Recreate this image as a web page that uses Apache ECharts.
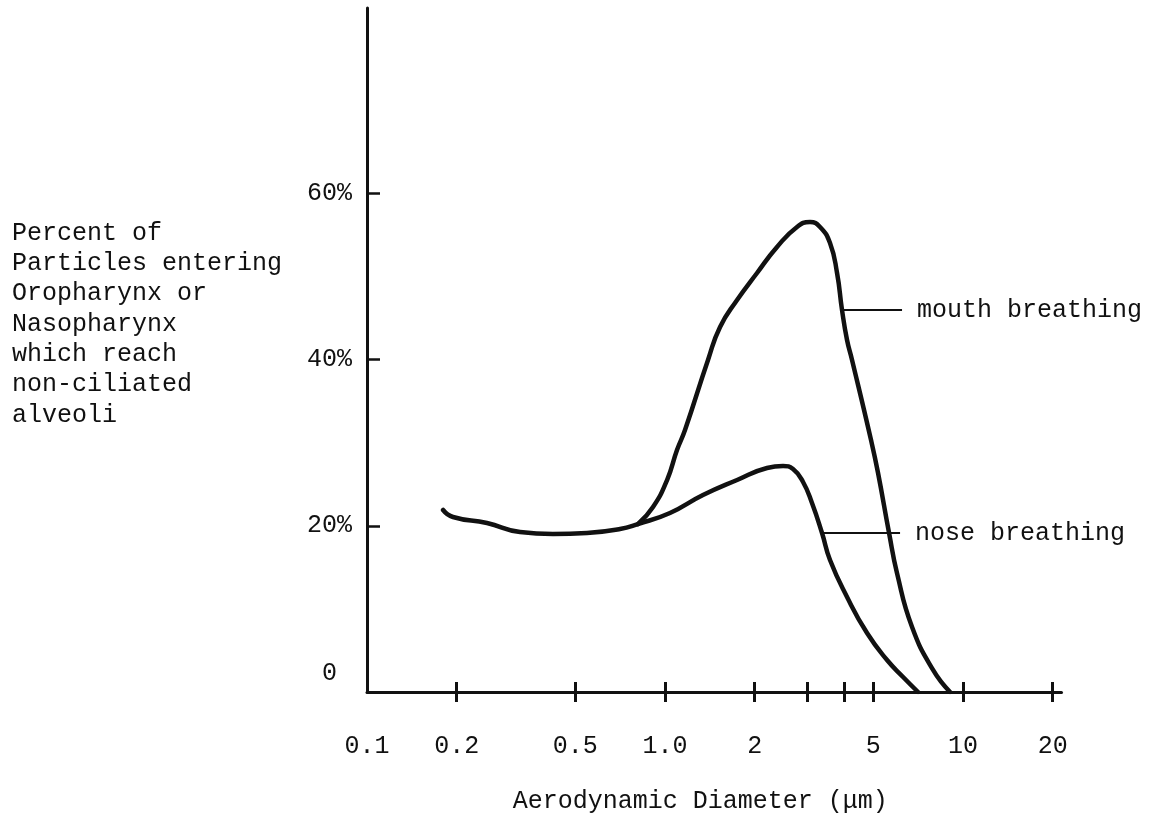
<!DOCTYPE html>
<html>
<head>
<meta charset="utf-8">
<script src="https://cdn.jsdelivr.net/npm/echarts@6/dist/echarts.min.js"></script>
<style>
html,body{margin:0;padding:0;background:#fff;}
#c{width:1155px;height:838px;}
</style>
</head>
<body>
<div id="c"></div>
<script>
// ---- data (aerodynamic diameter in µm, percent) ----
const noseX = [0.180,0.1943,0.2527,0.3263,0.4208,0.5473,0.7063,0.8116,1.039,1.341,1.745,2.199,2.489,2.689,2.905,3.113,3.364,3.578,4.081,4.763,5.559,6.291,7.063];
const noseY = [21.91,21.07,20.34,19.26,19.02,19.14,19.62,20.22,21.55,23.71,25.52,26.97,27.21,26.84,25.28,22.75,19.14,15.89,11.44,7.10,3.85,1.81,0];
const mouthX = [0.8116,0.9114,1.016,1.097,1.167,1.394,1.530,1.745,2.036,2.376,2.773,3.066,3.312,3.578,3.778,3.926,4.081,4.242,4.912,5.186,5.647,6.003,6.744,7.932,9.045];
const mouthY = [20.22,22.27,25.52,29.13,31.54,39.97,43.94,47.19,50.44,53.57,55.98,56.58,55.98,54.05,50.44,45.99,42.37,39.97,30.34,26.36,19.14,14.33,7.82,2.65,0];
const xLabelValues = [0.1,0.2,0.5,1,2,5,10,20];
const xTickValues = [0.2,0.5,1,2,3,4,5,10,20];
const yLabelValues = [0,20,40,60];
const yTickValues = [20,40,60];
const mouthLabel = {name:'mouth breathing', x0:3.926, x1:6.242, y:45.99};
const noseLabel = {name:'nose breathing', x0:3.364, x1:6.147, y:19.14};
const yTitle = 'Percent of\nParticles entering\nOropharynx or\nNasopharynx\nwhich reach\nnon-ciliated\nalveoli';
const xTitle = 'Aerodynamic Diameter (μm)';

const FONT = '"Liberation Mono", "DejaVu Sans Mono", monospace';
const INK = '#111';
const zip = (xs, ys) => xs.map((x, i) => [x, ys[i]]);

const chart = echarts.init(document.getElementById('c'), null, {renderer: 'canvas'});
const xBase = {
  type: 'log', gridIndex: 0, min: 0.1, max: 21.4, position: 'bottom',
  splitLine: {show: false}, minorTick: {show: false}
};
chart.setOption({
  animation: false,
  backgroundColor: '#fff',
  title: {
    text: yTitle, left: 7, top: 213,
    textStyle: {fontFamily: FONT, fontSize: 25, fontWeight: 'normal', color: INK, lineHeight: 30.3}
  },
  grid: {left: 367, right: 93.5, top: 8, bottom: 146, containLabel: false, outerBoundsMode: 'none'},
  xAxis: [
    Object.assign({}, xBase, {
      name: xTitle, nameLocation: 'middle', nameGap: 97,
      nameTextStyle: {fontFamily: FONT, fontSize: 25, color: INK, padding: [0, 28, 0, 0]},
      axisLine: {show: true, lineStyle: {color: INK, width: 3}},
      axisTick: {show: true, inside: true, length: 10, customValues: xTickValues, lineStyle: {color: INK, width: 3}},
      axisLabel: {show: true, margin: 42, customValues: xLabelValues, fontFamily: FONT, fontSize: 25, color: INK,
        formatter: v => (Math.abs(v - 1) < 1e-9 ? '1.0' : String(+v.toPrecision(3)))}
    }),
    Object.assign({}, xBase, {
      axisLine: {show: false},
      axisTick: {show: true, inside: false, length: 10, customValues: xTickValues, lineStyle: {color: INK, width: 3}},
      axisLabel: {show: false}
    })
  ],
  yAxis: {
    type: 'value', min: 0, max: 82.34,
    splitLine: {show: false},
    axisLine: {show: true, lineStyle: {color: INK, width: 3}},
    axisTick: {show: true, inside: true, length: 13, customValues: yTickValues, lineStyle: {color: INK, width: 2.5}},
    axisLabel: {show: true, margin: 15, customValues: yLabelValues, fontFamily: FONT, fontSize: 25, color: INK,
      formatter: v => (v === 0 ? '{z|0 }' : v + '%'),
      rich: {z: {fontFamily: FONT, fontSize: 25, color: INK, padding: [0, 0, 38, 0]}}
    }
  },
  series: [
    {
      name: 'nose breathing', type: 'line', xAxisIndex: 0, data: zip(noseX, noseY),
      smooth: 0.5, showSymbol: false, symbol: 'none',
      lineStyle: {color: INK, width: 4.5, cap: 'round', join: 'round'},
      markLine: {
        silent: true, symbol: 'none',
        lineStyle: {color: INK, width: 2, type: 'solid'},
        label: {show: true, position: 'end', distance: 15, formatter: noseLabel.name, fontFamily: FONT, fontSize: 25, color: INK},
        data: [[{coord: [noseLabel.x0, noseLabel.y]}, {coord: [noseLabel.x1, noseLabel.y]}]]
      }
    },
    {
      name: 'mouth breathing', type: 'line', xAxisIndex: 0, data: zip(mouthX, mouthY),
      smooth: 0.5, showSymbol: false, symbol: 'none',
      lineStyle: {color: INK, width: 4.5, cap: 'round', join: 'round'},
      markLine: {
        silent: true, symbol: 'none',
        lineStyle: {color: INK, width: 2, type: 'solid'},
        label: {show: true, position: 'end', distance: 15, formatter: mouthLabel.name, fontFamily: FONT, fontSize: 25, color: INK},
        data: [[{coord: [mouthLabel.x0, mouthLabel.y]}, {coord: [mouthLabel.x1, mouthLabel.y]}]]
      }
    }
  ]
});
</script>
</body>
</html>
